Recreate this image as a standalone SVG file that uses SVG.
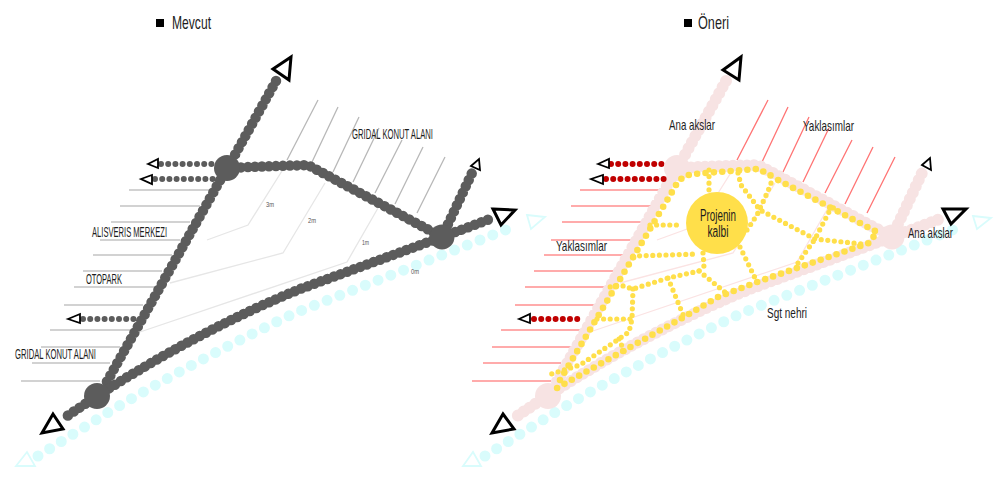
<svg xmlns="http://www.w3.org/2000/svg" xmlns:xlink="http://www.w3.org/1999/xlink" width="1000" height="481" viewBox="0 0 1000 481">
<style>
text{font-family:"Liberation Sans",Arial,sans-serif;fill:#1d1d1d}
.lb{font-size:14.500px}
.hd{font-size:19px}
.hk{font-size:16px}
.m{font-size:6.500px;fill:#555}
.p{fill:none;stroke-linecap:round;stroke-linejoin:round}
.road{stroke-width:10.500;stroke-dasharray:0 7}
.roadp{stroke-width:12;stroke-dasharray:0 7}
.riv{fill:none;stroke:#d9fcfc;stroke-width:11;stroke-linecap:round;stroke-dasharray:0 13.700}
.tri{fill:#fff;stroke:#000;stroke-width:3;stroke-linejoin:miter}
.tri2{fill:#fff;stroke:#000;stroke-width:1.800}
.trc{fill:none;stroke:#d9fcfc;stroke-width:1.800}
.ln{stroke-width:1.300;fill:none}
.hz{stroke-width:1.600;fill:none}
.y1{fill:none;stroke:#ffdf4a;stroke-width:6.600;stroke-linecap:round;stroke-linejoin:round;stroke-dasharray:0 8.400}
.y2{fill:none;stroke:#ffdf4a;stroke-width:5.200;stroke-linecap:round;stroke-linejoin:round;stroke-dasharray:0 6.600}
.d{fill:none;stroke-width:6;stroke-linecap:round;stroke-dasharray:0 7.200}
</style>
<defs>
<g id="roads">
<path d="M276 81L232 160"/><path d="M227 168L105 385"/><path d="M97 396L64 418"/>
<path d="M227 168L250 167L308 165L442 237"/><path d="M97 396Q200 330 300 289L442 237"/>
<path d="M442 237L472 173"/><path d="M442 237L490 219"/>
</g>
<g id="horiz">
<path d="M129 190H210M120 206H200M111 222H190M100 240H180M93 255H172M83 271H162M74 287H155M64 305H143M50 330H130M41 347H120M32 363H110M21 381H100"/>
</g>
<g id="diag">
<path d="M318 100L287 160M338 107L312 162M359 117L333 172M379 128L353 182M402 140L375 193M423 147L395 204M445 157L417 213"/>
</g>
<g id="contours">
<path d="M287 163L248 225L207 240M325 183L283 253L170 283M378 208L347 262L140 332"/>
</g>
<path id="river" d="M38 456L107 413Q200 358 295 313L518 225"/>
</defs>

<g id="mevcut">
<rect x="156" y="19" width="8" height="8" fill="#000"/>
<text class="hd" x="172" y="29" textLength="39" lengthAdjust="spacingAndGlyphs">Mevcut</text>
<use xlink:href="#contours" class="ln" stroke="#e6e6e6"/>
<use xlink:href="#horiz" class="hz" stroke="#c4c4c4"/>
<use xlink:href="#diag" class="ln" stroke="#b8b8b8"/>
<use xlink:href="#river" class="riv"/>
<g id="connectors-left">
<use xlink:href="#roads" class="p road" stroke="#5c5c5c"/>
<path class="d" stroke="#5c5c5c" d="M161 164H214M155 179H218M83 319H134"/>
</g>
<g id="node-l1"><circle cx="227" cy="168" r="13" fill="#5c5c5c"/></g>
<g id="node-l2"><circle cx="97" cy="396" r="13" fill="#5c5c5c"/></g>
<g id="node-l3"><circle cx="442" cy="237" r="12.500" fill="#5c5c5c"/></g>
<path class="tri" d="M273 69L291 57L289 80Z"/>
<path class="tri" d="M53 414L63 429L42 433Z"/>
<path class="tri" d="M493 209L515 210L501 225Z"/>
<path class="tri2" d="M471 166L479 159L480 170Z"/>
<path class="tri2" d="M148 164L158 159L158 168Z"/>
<path class="tri2" d="M141 179L152 175L152 184Z"/>
<path class="tri2" d="M68 319L80 314L80 323Z"/>
<path class="trc" d="M527 215L545 217L531 229Z"/>
<path class="trc" d="M16 466L35 466L27 452Z"/>
<text class="lb" x="352" y="139" textLength="81" lengthAdjust="spacingAndGlyphs">GRIDAL KONUT ALANI</text>
<text class="lb" x="92" y="237" textLength="75" lengthAdjust="spacingAndGlyphs">ALISVERIS MERKEZI</text>
<text class="lb" x="86" y="284" textLength="36" lengthAdjust="spacingAndGlyphs">OTOPARK</text>
<text class="lb" x="15" y="359" textLength="81" lengthAdjust="spacingAndGlyphs">GRIDAL KONUT ALANI</text>
<text class="m" x="266" y="207" textLength="8" lengthAdjust="spacingAndGlyphs">3m</text>
<text class="m" x="308" y="223" textLength="8" lengthAdjust="spacingAndGlyphs">2m</text>
<text class="m" x="362" y="245" textLength="7" lengthAdjust="spacingAndGlyphs">1m</text>
<text class="m" x="411" y="274" textLength="8" lengthAdjust="spacingAndGlyphs">0m</text>
</g>

<g id="oneri">
<rect x="684" y="19" width="8" height="8" fill="#000"/>
<text class="hd" x="698" y="29" textLength="31" lengthAdjust="spacingAndGlyphs">Öneri</text>
<use xlink:href="#contours" class="ln" stroke="#fbe3e3" transform="translate(450 0)"/>
<use xlink:href="#horiz" class="hz" stroke="#ff9090" transform="translate(451 0)"/>
<use xlink:href="#diag" class="ln" stroke="#ff7474" transform="translate(450 0)"/>
<use xlink:href="#river" class="riv" transform="translate(447 0)"/>
<g id="connectors-right">
<use xlink:href="#roads" class="p roadp" stroke="#f7e3e3" transform="translate(450 0)"/>
<path class="d" stroke="#c00000" d="M611 164H664M606 179H666M534 319H578"/>
</g>
<g id="node-r1"><circle cx="677" cy="168" r="13" fill="#f7e3e3"/></g>
<g id="node-r2"><circle cx="548" cy="396" r="13" fill="#f7e3e3"/></g>
<g id="node-r3"><circle cx="892" cy="237" r="12.500" fill="#f7e3e3"/></g>
<path class="tri" d="M723 70L741 57L739 80Z"/>
<path class="tri" d="M503 414L514 429L492 433Z"/>
<path class="tri" d="M943 209L966 209L951 224Z"/>
<path class="tri2" d="M922 165L930 158L931 170Z"/>
<path class="tri2" d="M598 164L609 159L609 168Z"/>
<path class="tri2" d="M591 179L603 175L603 184Z"/>
<path class="tri2" d="M519 319L530 314L530 323Z"/>
<path class="trc" d="M973 216L991 218L977 229Z"/>
<path class="trc" d="M463 466L481 466L473 452Z"/>
<g id="yellow-paths">
<path class="y1" d="M560 380L675 187Q680 176 693 174L757 169Q764 171 778 180L877 232L869 243L757 282L718 297L684 317L557 388"/>
<path class="y2" d="M650 225H682M633 256L698 254M709 170V194"/>
<path class="y2" d="M703 253L704 266L699 271L668 278L633 289L620 285L610 287"/>
<path class="y2" d="M633 289L632 319L629 332L610 345L580 365L548 375"/>
<path class="y2" d="M597 319H632M668 278L684 317M699 271L726 293M619 339L626 356M740 247L757 282"/>
<path class="y2" d="M747 230L757 215L768 191L773 178"/>
<path class="y2" d="M738 173L741 185L760 210L815 239L862 244"/>
<path class="y2" d="M798 263L815 239L830 210L835 207"/>
</g>
<g id="heart">
<circle cx="717" cy="223" r="31" fill="#ffdf4a"/>
<text class="hk" x="700" y="221" textLength="36" lengthAdjust="spacingAndGlyphs">Projenin</text>
<text class="hk" x="707.500" y="237" textLength="21" lengthAdjust="spacingAndGlyphs">kalbi</text>
</g>
<text class="lb" x="669" y="130" textLength="46" lengthAdjust="spacingAndGlyphs">Ana akslar</text>
<text class="lb" x="908" y="238" textLength="45" lengthAdjust="spacingAndGlyphs">Ana akslar</text>
<text class="lb" x="803" y="131" textLength="51" lengthAdjust="spacingAndGlyphs">Yaklasımlar</text>
<text class="lb" x="556" y="251" textLength="51" lengthAdjust="spacingAndGlyphs">Yaklasımlar</text>
<text class="lb" x="767" y="318" textLength="40" lengthAdjust="spacingAndGlyphs">Sgt nehri</text>
</g>
</svg>
